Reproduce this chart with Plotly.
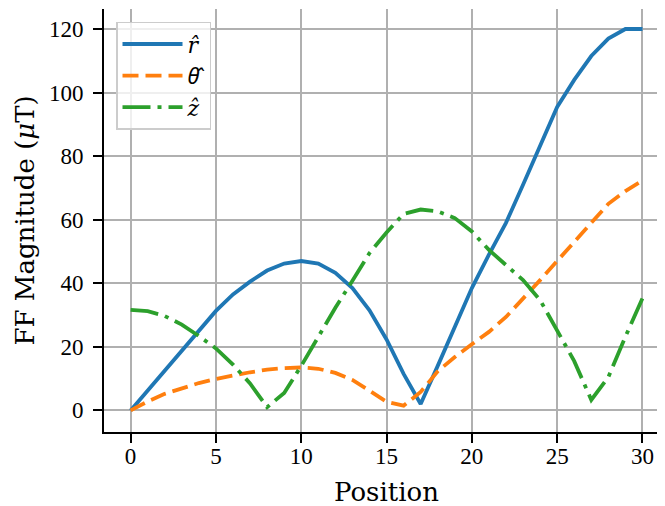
import plotly.graph_objects as go

positions = list(range(31))
r_hat = [0, 6.2, 12.4, 18.7, 25, 31.3, 36.5, 40.5, 44, 46.2, 47, 46.2, 43.3, 38.5, 31.5,
         22.3, 11.5, 2, 14, 26.5, 38.5, 49, 59, 71, 83.5, 95.5, 104, 111.5, 117, 120, 120]
theta_hat = [0, 2.8, 5.2, 7, 8.6, 9.9, 11, 12, 12.8, 13.3, 13.5, 13.1, 11.8, 9.6, 6.2,
             2.7, 1.5, 5.8, 12.3, 16.8, 20.8, 24.7, 29.4, 35, 41, 47, 53, 59, 65, 69, 72.3]
z_hat = [31.6, 31.2, 29.7, 27, 23.4, 19.5, 14.4, 8.5, 1, 5.5, 14, 23.4, 32.3, 40.8, 49.5,
         56, 61.8, 63.2, 62.6, 60.5, 56.3, 50.5, 45.8, 41, 34.7, 25.3, 15.5, 3.3, 10.5, 23.2, 35.3]

x_ticks = [0, 5, 10, 15, 20, 25, 30]
y_ticks = [0, 20, 40, 60, 80, 100, 120]
legend_names = ["<i>r\u0302</i>",
                "<span style=\"font-family:'Noto Sans'\"><i>\u03b8\u0302</i></span>",
                "<i>z\u0302</i>"]

TICK_FONT = "Liberation Serif"
LABEL_FONT = "DejaVu Serif"

fig = go.Figure()
fig.add_trace(go.Scatter(x=positions, y=r_hat, mode="lines", name=legend_names[0],
                         line=dict(color="#1f77b4", width=3.8)))
fig.add_trace(go.Scatter(x=positions, y=theta_hat, mode="lines", name=legend_names[1],
                         line=dict(color="#ff7f0e", width=3.8, dash="16px,7px")))
fig.add_trace(go.Scatter(x=positions, y=z_hat, mode="lines", name=legend_names[2],
                         line=dict(color="#2ca02c", width=3.8, dash="28px,7px,4px,7px")))

axis_common = dict(
    showgrid=True, gridcolor="#b0b0b0", gridwidth=1.6,
    zeroline=False, showline=True, linecolor="black", linewidth=1.6,
    ticks="outside", ticklen=9, tickwidth=1.6, tickcolor="black",
    tickfont=dict(family=TICK_FONT, size=23, color="black"),
    mirror=False, automargin=False,
)

fig.update_xaxes(range=[-1.56, 31.32], tickvals=x_ticks, ticklabelstandoff=-6, **axis_common)
fig.update_yaxes(range=[-6.8, 126.3], tickvals=y_ticks, ticklabelstandoff=5, **axis_common)

# the page body has an 8px margin, so the figure is sized and placed to compensate
fig.update_layout(
    width=657, height=498,
    margin=dict(l=96, r=0, t=1, b=74),
    paper_bgcolor="white", plot_bgcolor="white",
    font=dict(family=TICK_FONT, color="black"),
    showlegend=True,
    legend=dict(x=0.0214, y=0.97, xanchor="left", yanchor="top",
                bgcolor="rgba(255,255,255,0.8)", bordercolor="#cccccc", borderwidth=1.5,
                itemwidth=60, tracegroupgap=0,
                font=dict(family=LABEL_FONT, size=22, color="black")),
    annotations=[
        dict(text="Position", xref="paper", yref="paper", x=0.503, y=-0.141,
             xanchor="center", yanchor="middle", showarrow=False,
             font=dict(family=LABEL_FONT, size=26, color="black")),
        dict(text="FF Magnitude (<i>μ</i>T)", xref="paper", yref="paper", x=-0.1426, y=0.5,
             xanchor="center", yanchor="middle", showarrow=False, textangle=-90,
             font=dict(family=LABEL_FONT, size=26, color="black")),
    ],
)

fig.write_html("out.html")
